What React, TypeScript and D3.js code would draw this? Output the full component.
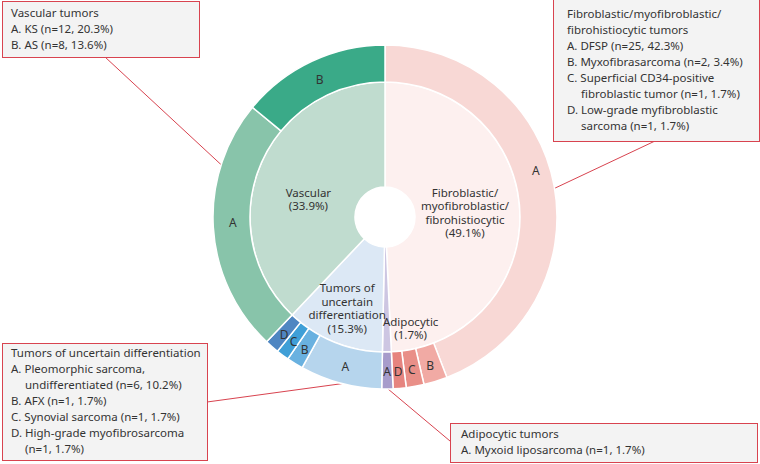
import React from "react";
import * as d3 from "d3";

// ---- data ----
const groupLabelLines = [
  ["Fibroblastic/", "myofibroblastic/", "fibrohistiocytic", "(49.1%)"],
  ["Adipocytic", "(1.7%)"],
  ["Tumors of", "uncertain", "differentiation", "(15.3%)"],
  ["Vascular", "(33.9%)"],
];
const subGroup = [0, 0, 0, 0, 1, 2, 2, 2, 2, 3, 3];
const subLetters = ["A", "B", "C", "D", "A", "A", "B", "C", "D", "A", "B"];
// drawn arc size of each sub-slice (degrees)
const subShares = [158.9, 8, 6, 4.4, 3.8, 27.7, 5.6, 4.3, 4.8, 86.1, 50.4];

const boxTitles = [
  ["Vascular tumors", "A. KS (n=12, 20.3%)", "B. AS (n=8, 13.6%)"],
  [
    "Fibroblastic/myofibroblastic/",
    "fibrohistiocytic tumors",
    "A. DFSP (n=25, 42.3%)",
    "B. Myxofibrasarcoma (n=2, 3.4%)",
    "C. Superficial CD34-positive",
    "    fibroblastic tumor (n=1, 1.7%)",
    "D. Low-grade myfibroblastic",
    "    sarcoma (n=1, 1.7%)",
  ],
  [
    "Tumors of uncertain differentiation",
    "A. Pleomorphic sarcoma,",
    "    undifferentiated (n=6, 10.2%)",
    "B. AFX (n=1, 1.7%)",
    "C. Synovial sarcoma (n=1, 1.7%)",
    "D. High-grade myofibrosarcoma",
    "    (n=1, 1.7%)",
  ],
  ["Adipocytic tumors", "A. Myxoid liposarcoma (n=1, 1.7%)"],
];

// ---- styles / layout ----
const groupColors = ["#fdf0ef", "#cdc6e2", "#dce8f5", "#c0dccf"];
const subColors = [
  "#f8d8d5", "#f1aaa4", "#e98f88", "#e6847f",
  "#a79ccb",
  "#b6d5ed", "#69b1e0", "#3f9fd7", "#4f86c2",
  "#88c4aa", "#3aaa88",
];
const groupLabelShift = [[-2.5, -3], [24.5, 28], [-6.5, 14], [0, 12]];
const subLabelShift = [[0, -20], [0, 0], [0, 0], [0, 0], [0, 0], [0, 0], [0, 0], [0, 0], [0, 0], [1, -5], [0, 0]];
// boxes: x, y, w, h, text x, indent x, first baseline
const boxes = [
  { x: 2, y: 1, w: 197, h: 56, tx: 11, ix: 25, by: 17, anchor: [105, 57], angle: 287.7 },
  { x: 553, y: -1, w: 206, h: 142, tx: 567, ix: 581, by: 18.3, anchor: [655, 141], angle: 80.4 },
  { x: 2, y: 343, w: 205, h: 117, tx: 11, ix: 25, by: 357.3, anchor: [207, 402], angle: 194.4 },
  { x: 450, y: 423, w: 307, h: 39, tx: 461, ix: 475, by: 437.7, anchor: [450, 441], angle: 179 },
];
const lineGap = 15.9;
const boxOrder = [3, 0, 2, 1]; // which group each box shows (unused for drawing order)

const W = 760, H = 464;
const cx = 385, cy = 217;
const rHole = 30, rInner = 135, rOuter = 172;
const font = "'Noto Sans', sans-serif";
const red = "#d8434f";

export default function App() {
  const rad = (deg: number) => (deg * Math.PI) / 180;
  const pie = d3.pie<number>().sort(null).value((d) => d).startAngle(0).endAngle(2 * Math.PI);

  const groupValues = d3.range(groupLabelLines.length).map((g) =>
    d3.sum(subShares.filter((_, i) => subGroup[i] === g))
  );
  const innerArcs = pie(groupValues);
  const outerArcs = pie(subShares);

  const innerArc = d3.arc<d3.PieArcDatum<number>>().innerRadius(rHole).outerRadius(rInner);
  const outerArc = d3.arc<d3.PieArcDatum<number>>().innerRadius(rInner).outerRadius(rOuter);

  return (
    <svg width={W} height={H} style={{ position: "absolute", left: 0, top: 0, background: "#fff" }} fontFamily={font}>
      {/* leader lines */}
      {boxes.map((b, i) => {
        const a = rad(b.angle);
        const ex = cx + rOuter * Math.sin(a);
        const ey = cy - rOuter * Math.cos(a);
        return <line key={"l" + i} x1={b.anchor[0]} y1={b.anchor[1]} x2={ex} y2={ey} stroke={red} strokeWidth={1} />;
      })}
      <g transform={`translate(${cx},${cy})`}>
        {innerArcs.map((a, i) => (
          <path key={"i" + i} d={innerArc(a) || ""} fill={groupColors[i]} stroke="#fff" strokeWidth={1.5} />
        ))}
        {outerArcs.map((a, i) => (
          <path key={"o" + i} d={outerArc(a) || ""} fill={subColors[i]} stroke="#fff" strokeWidth={1.5} />
        ))}
        {outerArcs.map((a, i) => {
          const [x, y] = outerArc.centroid(a);
          return (
            <text key={"ot" + i} x={x + subLabelShift[i][0]} y={y + subLabelShift[i][1] + 1.5}
              textAnchor="middle" dominantBaseline="central" fontSize={12} fill="#333">
              {subLetters[i]}
            </text>
          );
        })}
        {innerArcs.map((a, i) => {
          const [x, y] = innerArc.centroid(a);
          const lines = groupLabelLines[i];
          const lh = 13.5;
          const x0 = x + groupLabelShift[i][0];
          const y0 = y + groupLabelShift[i][1] - ((lines.length - 1) * lh) / 2;
          return (
            <text key={"it" + i} textAnchor="middle" fontSize={11.5} fill="#333" dominantBaseline="central">
              {lines.map((t, j) => (
                <tspan key={j} x={x0} y={y0 + j * lh}>{t}</tspan>
              ))}
            </text>
          );
        })}
      </g>
      {/* annotation boxes */}
      {boxes.map((b, i) => (
        <g key={"b" + i}>
          <rect x={b.x + 0.5} y={b.y + 0.5} width={b.w} height={b.h} fill="#f3f3f3" stroke={red} strokeWidth={1} />
          {boxTitles[i].map((t, j) => {
            const indented = t.startsWith("    ");
            return (
              <text key={j} x={indented ? b.ix : b.tx} y={b.by + j * lineGap} fontSize={11.5} fill="#333">
                {t.trim()}
              </text>
            );
          })}
        </g>
      ))}
    </svg>
  );
}
